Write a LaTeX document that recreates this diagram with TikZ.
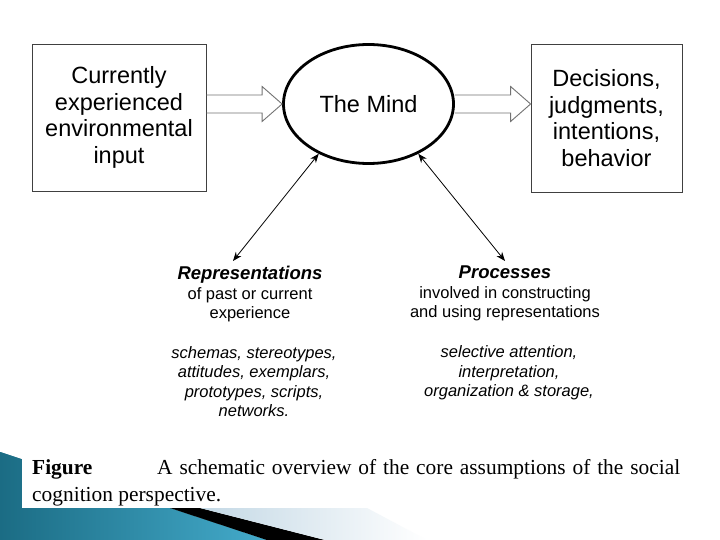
\documentclass[tikz,border=0pt]{standalone}
\usepackage{fontspec}
\setmainfont{Liberation Serif}
\setsansfont{Liberation Sans}
\usetikzlibrary{
    arrows.meta,
    calc,
    positioning,
    shapes.geometric % to use \node[ellipse]
}
\definecolor{tealdark}{HTML}{1B6C84}
\definecolor{teallight}{HTML}{44ABCB}
\definecolor{paleblue}{HTML}{C3D8E5}

\begin{document}
\begin{tikzpicture}[x=1pt,y=-1pt,
    box/.style={draw=black!75,line width=0.8pt,align=center,inner sep=0pt,
        font=\sffamily\fontsize{23.5}{26.5}\selectfont},
    mindnode/.style={ellipse,draw,line width=2.8pt,inner sep=0pt,
        minimum width=170pt,minimum height=119pt,
        font=\sffamily\fontsize{23.5}{26.5}\selectfont},
    fat/.style={draw=black!55,line width=0.9pt,line join=miter},
    link/.style={arrows={Stealth[length=9pt,width=7pt]-Stealth[length=9pt,width=7pt]},line width=0.8pt},
    note/.style={align=center,inner sep=0pt,
        font=\sffamily\fontsize{16.5}{19.5}\selectfont},
    caption/.style={inner sep=0pt,font=\rmfamily\fontsize{21.4}{27}\selectfont}
]
    \fill[white,use as bounding box] (0,0) rectangle (720,540);

    % slide decoration
    \fill[tealdark] (0,452) -- (267,540) -- (0,540) -- cycle;
    \shade[left color=tealdark,right color=teallight] (0,452) -- (267,540) -- (0,540) -- cycle;
    \fill[black] (170,508) -- (200,508) -- (325,540) -- (267,540) -- cycle;
    \shade[left color=paleblue,right color=white] (200,508) -- (367,508) -- (427,540) -- (325,540) -- cycle;
    \fill[white] (22,448) rectangle (720,508);

    \node[box,minimum width=174pt,minimum height=147pt] (input) at (119,117.5)
        {Currently\\experienced\\environmental\\input};
    \node[mindnode] (mind) at (368.5,104) {The Mind};
    \node[box,minimum width=151pt,minimum height=148pt] (output) at (606.5,118)
        {Decisions,\\judgments,\\intentions,\\behavior};

    \foreach \from/\to in {input.east/mind.west,mind.east/output.west}
        \draw[fat] (\from |- 0,95) -- ($(\to |- 0,95)+(-20,0)$)
            -- ($(\to |- 0,86.5)+(-20,0)$) -- (\to |- 0,104)
            -- ($(\to |- 0,121.5)+(-20,0)$) -- ($(\to |- 0,113)+(-20,0)$)
            -- (\from |- 0,113);

    \node[note,anchor=north] (reps) at (250,266)
        {\textbf{\textit{\fontsize{18.5}{19.5}\selectfont Representations}}\\of past or current\\experience};
    \node[note,below=24pt of reps,xshift=4pt] (replist)
        {\itshape schemas, stereotypes,\\\itshape attitudes, exemplars,\\\itshape prototypes, scripts,\\\itshape networks.};
    \node[note,anchor=north] (procs) at (505,266)
        {\textbf{\textit{\fontsize{18.5}{19.5}\selectfont Processes}}\\involved in constructing\\and using representations};
    \node[note,below=24pt of procs,xshift=4pt] (proclist)
        {\itshape selective attention,\\\itshape interpretation,\\\itshape organization \& storage,};

    \draw[link] (mind.225) -- ([xshift=-17pt,yshift=5pt]reps.north);
    \draw[link] (mind.315) -- ([yshift=5pt]procs.north);

    \node[caption,anchor=base west] (figlabel) at (32,474) {\textbf{Figure}};
    \node[caption,anchor=base west] (captext) at (157,474)
        {\makebox[523pt][s]{A schematic overview of the core assumptions of the social}};
    \node[caption,anchor=base west] (captext2) at (32,501) {cognition perspective.};
\end{tikzpicture}
\end{document}
